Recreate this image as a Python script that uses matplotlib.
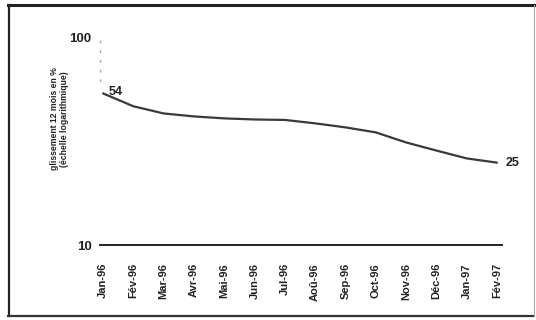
import matplotlib
matplotlib.use("Agg")
import matplotlib.pyplot as plt
from matplotlib.lines import Line2D

months = ["Jan-96", "Fév-96", "Mar-96", "Avr-96", "Mai-96", "Jun-96", "Jul-96",
          "Aoû-96", "Sep-96", "Oct-96", "Nov-96", "Déc-96", "Jan-97", "Fév-97"]
values = [54, 46.8, 43.2, 41.8, 40.9, 40.4, 40.2, 38.7, 37.0, 35.0, 31.3, 28.6, 26.2, 25]
ytick_vals = [10, 100]
ytick_labels = ["10", "100"]
ylabel = "glissement 12 mois en %\n(échelle logarithmique)"

plt.rcParams['font.family'] = ['Liberation Sans', 'DejaVu Sans']

W, H = 536, 320
fig = plt.figure(figsize=(W / 100, H / 100), dpi=100)
fig.patch.set_facecolor("white")

def fx(px):
    return px / W

def fy(py):
    return 1 - py / H

left, right = 100, 501.5
top, bottom = 38, 245
ax = fig.add_axes([fx(left), fy(bottom), (right - left) / W, (bottom - top) / H])
ax.set_yscale("log")
ax.set_ylim(10, 100)
ax.set_xlim(-0.1, 13.15)

x = list(range(len(months)))
ax.plot(x, values, color="#3a3a3a", lw=1.6, solid_capstyle="round")

ax.set_yticks(ytick_vals)
ax.set_yticklabels(ytick_labels, fontsize=9.5, fontweight="bold", color="#222")
ax.yaxis.set_minor_locator(matplotlib.ticker.NullLocator())
ax.set_xticks(x)
ax.set_xticklabels(months, rotation=90, fontsize=8, fontweight="bold", color="#222")
ax.tick_params(axis="both", length=0)
ax.tick_params(axis="x", pad=13)
ax.tick_params(axis="y", pad=6)

for s in ["top", "right"]:
    ax.spines[s].set_visible(False)
ax.spines["bottom"].set_color("#222")
ax.spines["bottom"].set_linewidth(1.4)
ax.spines["left"].set_color("#aaaaaa")
ax.spines["left"].set_linestyle((0, (1, 6)))
ax.spines["left"].set_linewidth(1.0)
ax.spines["left"].set_bounds(62, 100)

ax.set_ylabel(ylabel, fontsize=6.2, fontweight="bold", color="#222",
              linespacing=1.1)
ax.yaxis.set_label_coords(fx(58) - fx(left), 0.61, transform=ax.transAxes)

ax.annotate(f"{values[0]:.0f}", xy=(x[0], values[0]), xytext=(4, 1), textcoords="offset points",
            fontsize=9, fontweight="bold", color="#222", ha="left", va="center")
ax.annotate(f"{values[-1]:.0f}", xy=(x[-1], values[-1]), xytext=(6, 0), textcoords="offset points",
            fontsize=9, fontweight="bold", color="#222", ha="left", va="center")

fig.add_artist(Line2D([fx(8), fx(534)], [fy(5), fy(5)], color="#222", lw=2.2))
fig.add_artist(Line2D([fx(9), fx(9)], [fy(5), fy(316)], color="#222", lw=1.6))
fig.add_artist(Line2D([fx(8), fx(534)], [fy(316), fy(316)], color="#333", lw=1.6))
fig.add_artist(Line2D([fx(534), fx(534)], [fy(5), fy(316)], color="#aaaaaa", lw=0.8))

fig.savefig("out.png", dpi=100, facecolor="white")
